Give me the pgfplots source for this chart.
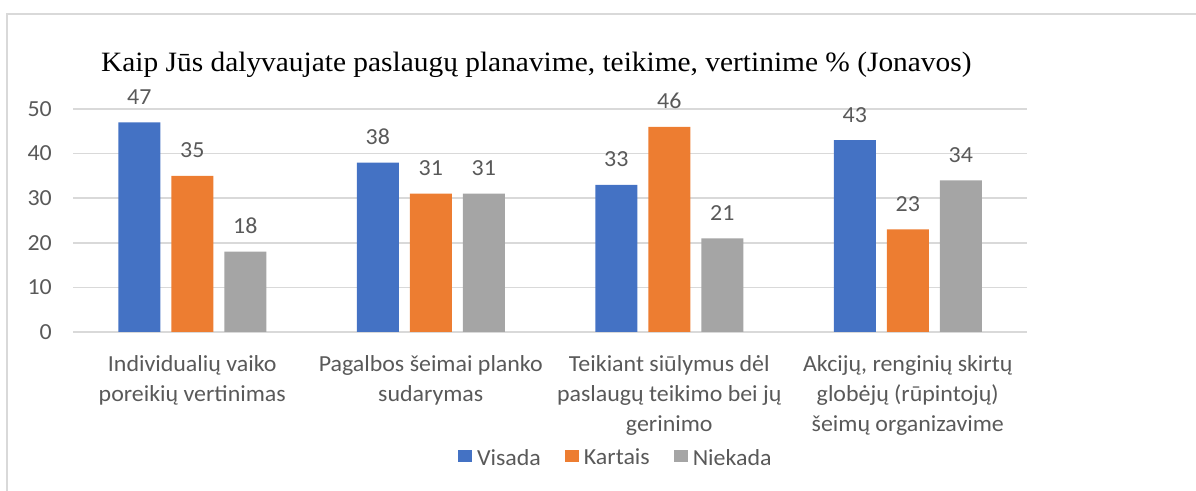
\documentclass[border=0pt]{standalone}
\usepackage{fontspec}
\setmainfont{Carlito}[FakeStretch=1.04]
\newfontfamily\titlefont{Liberation Serif}[FakeStretch=1.05]
\usepackage{pgfplots}
\pgfplotsset{compat=1.18}
\definecolor{cblue}{HTML}{4472C4}
\definecolor{corange}{HTML}{ED7D31}
\definecolor{cgray}{HTML}{A5A5A5}
\definecolor{gridc}{HTML}{D9D9D9}
\definecolor{txt}{HTML}{595959}
\newcommand{\lbl}{\fontsize{23bp}{30bp}\selectfont}
\begin{document}
\begin{tikzpicture}
\useasboundingbox (0,0) rectangle (1196bp,491bp);
\draw[gridc, line width=2bp] (7bp,0) -- (7bp,477bp) -- (1196bp,477bp);
\begin{axis}[
  at={(73bp,159bp)}, anchor=south west,
  scale only axis, width=954bp, height=223bp,
  ybar=11bp, bar width=42bp,
  xmin=-0.5, xmax=3.5, ymin=0, ymax=50,
  xtick={0,1,2,3},
  xticklabels={{Individualių vaiko\\poreikių vertinimas},
               {Pagalbos šeimai planko\\sudarymas},
               {Teikiant siūlymus dėl\\paslaugų teikimo bei jų\\gerinimo},
               {Akcijų, renginių skirtų\\globėjų (rūpintojų)\\šeimų organizavime}},
  ytick={0,10,20,30,40,50},
  ymajorgrids, major grid style={gridc, line width=1.5bp},
  axis line style={draw=none},
  major tick length=0pt,
  tick label style={font=\lbl, text=txt},
  yticklabel style={inner sep=0pt, xshift=-21bp},
  xticklabel style={align=center, inner sep=0pt, anchor=north, yshift=-23bp},
  /pgf/number format/assume math mode=true,
  nodes near coords,
  every node near coord/.append style={font=\lbl, text=txt, anchor=base, inner sep=0pt, yshift=18bp},
  legend columns=3,
  legend style={at={(0.4036,-0.564)}, anchor=west, draw=none, fill=none,
    inner sep=0pt, outer sep=0pt, font=\lbl, text=txt,
    nodes={inner sep=0pt},
    /tikz/every odd column/.append style={column sep=5bp},
    /tikz/every even column/.append style={column sep=24bp}},
  every axis plot post/.append style={/pgfplots/legend image code/.code={\fill[##1] (0bp,-4bp) rectangle (14bp,8bp);}},
]
\addplot[fill=cblue, draw=none] coordinates {(0,47) (1,38) (2,33) (3,43)};
\addplot[fill=corange, draw=none] coordinates {(0,35) (1,31) (2,46) (3,23)};
\addplot[fill=cgray, draw=none] coordinates {(0,18) (1,31) (2,21) (3,34)};
\legend{Visada, Kartais, Niekada}
\end{axis}
\node[anchor=base west, inner sep=0pt, font=\titlefont\fontsize{28bp}{32bp}\selectfont] at (101bp,419bp) {Kaip Jūs dalyvaujate paslaugų planavime, teikime, vertinime \% (Jonavos)};
\end{tikzpicture}
\end{document}
